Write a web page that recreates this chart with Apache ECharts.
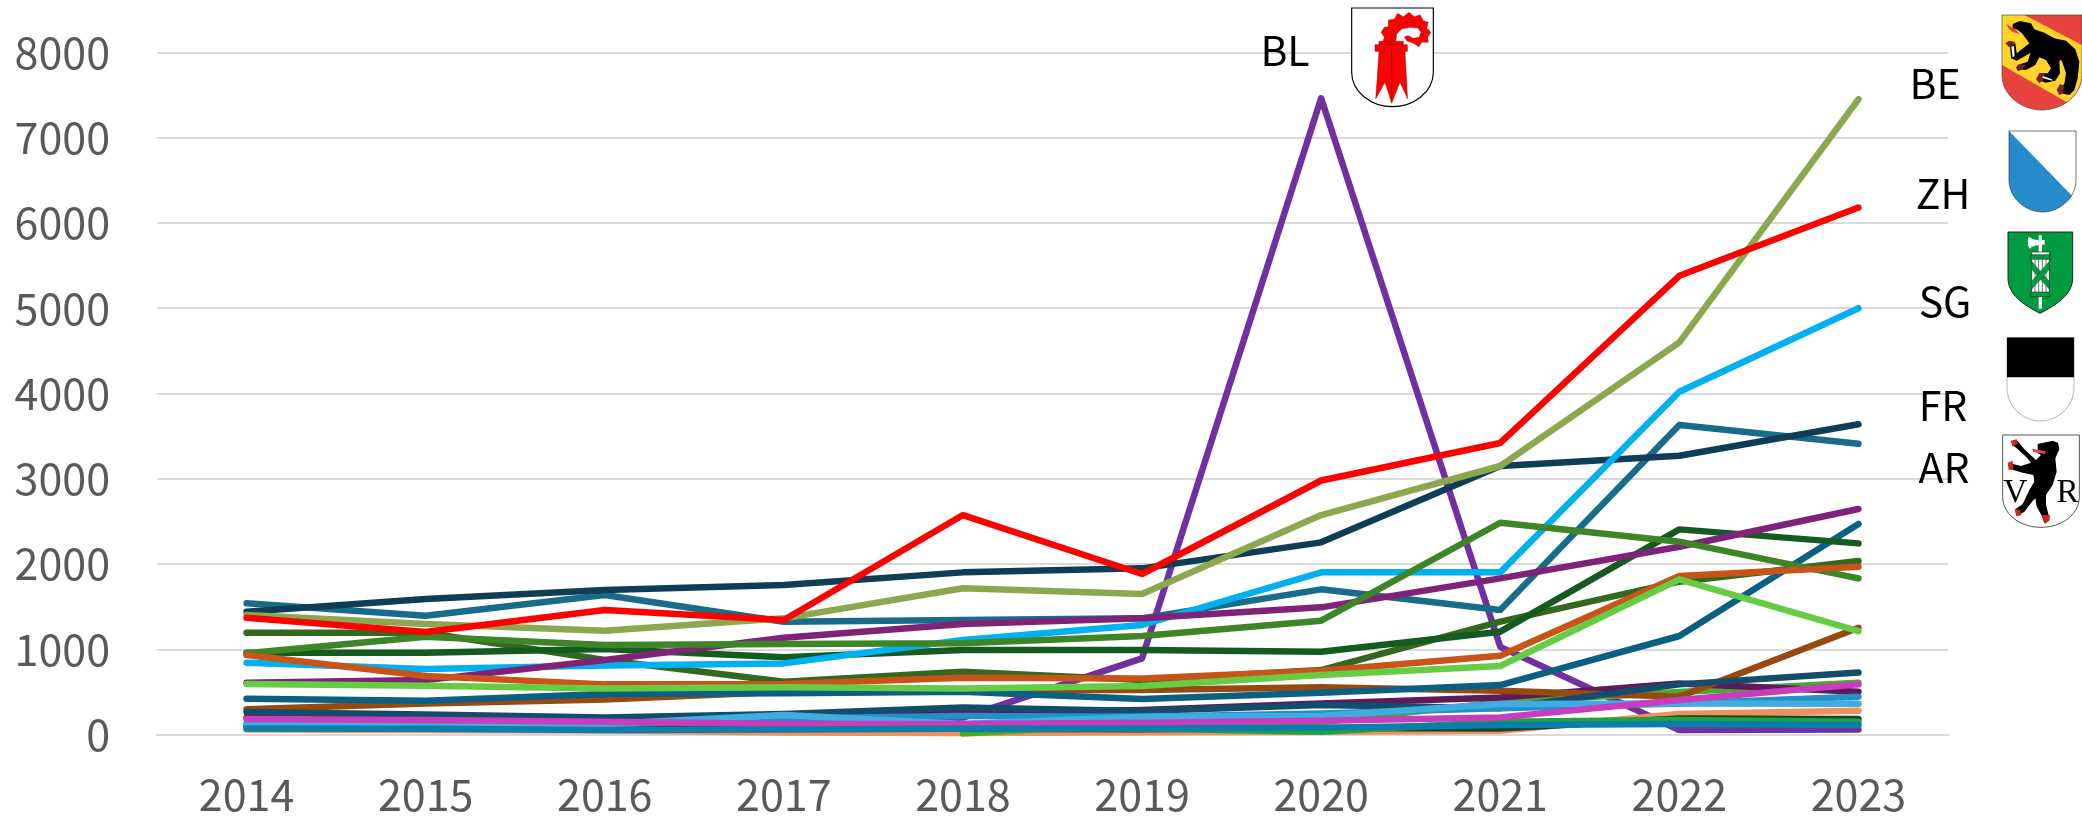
<!DOCTYPE html>
<html><head><meta charset="utf-8">
<style>html,body{margin:0;padding:0;background:#fff}#c{width:2082px;height:818px}</style>
<script src="https://cdn.jsdelivr.net/npm/echarts@6/dist/echarts.min.js"></script>
</head><body><div id="c"></div>
<script>
const years=['2014','2015','2016','2017','2018','2019','2020','2021','2022','2023'];
const bl=[90,85,80,90,200,895,7460,1030,55,60];
const salmon=[60,55,50,25,20,30,35,47,242,281];
const blackGreen=[100,95,90,85,70,65,80,74,190,184];
const grass=[null,null,null,null,15,130,150,380,500,610];
const midGreen=[null,null,null,null,60,74,35,152,172,152];
const plum=[200,190,170,195,250,290,367,437,600,504];
const brown=[297,367,414,504,524,524,555,516,445,1254];
const navy2=[266,238,203,242,320,277,348,309,590,730];
const teal2=[422,399,477,485,504,418,492,582,1157,2470];
const lime=[594,574,543,555,543,570,700,805,1821,1215];
const rust=[934,688,590,594,668,660,750,926,1860,1970];
const olive2=[1196,1196,875,621,739,640,758,1325,1794,2036];
const forest=[961,961,1004,907,993,993,973,1208,2407,2243];
const green=[954,1149,1051,1063,1071,1157,1337,2485,2263,1833];
const ar=[1540,1395,1637,1325,1344,1364,1704,1462,3630,3410];
const fr=[1442,1590,1696,1755,1903,1950,2255,3150,3270,3640];
const violet=[610,640,875,1137,1297,1364,1493,1833,2204,2646];
const sg=[844,770,810,836,1110,1286,1903,1903,4020,5000];
const be=[1403,1297,1220,1364,1716,1650,2575,3150,4600,7450];
const zh=[1372,1204,1462,1344,2575,1884,2980,3420,5380,6180];
const blue=[130,125,120,190,219,211,250,310,367,445];
const sky=[125,133,125,230,125,211,219,360,367,363];
const magenta=[184,172,152,125,125,140,164,203,406,590];
const ocean=[74,70,55,62,70,74,82,113,125,113];
const yTicks=[0,1000,2000,3000,4000,5000,6000,7000,8000];

const lines=[
 [bl,'#7030A0'],[salmon,'#F0905F'],[blackGreen,'#0F4A28'],[grass,'#4EA72E'],[midGreen,'#1FA33F'],
 [plum,'#5E1A5A'],[brown,'#974A10'],[navy2,'#134D6B'],[teal2,'#0A5F82'],[olive2,'#33691E'],
 [forest,'#155A1E'],[ar,'#196B8A'],[fr,'#0F3D56'],[be,'#8CA84F'],[sg,'#00B0F0'],[violet,'#7F2378'],
 [green,'#3E8527'],[rust,'#C9541A'],[lime,'#66CC44'],[zh,'#FF0000'],
 [blue,'#2490C8'],[sky,'#40ACDF'],[magenta,'#C83CBE'],[ocean,'#0B7FAA']
];

const shield='M0 0H100V72C100 100 75 120 50 120C25 120 0 100 0 72Z';
const stroke=(c,w)=>({stroke:c,lineWidth:w});
const pathEl=(d,fill,st)=>({type:'path',shape:{pathData:d},style:Object.assign({fill:fill,lineWidth:0},st||{})});
function emblem(x,y,sx,sy,kids){return {type:'group',x:x,y:y,scaleX:sx,scaleY:sy,children:kids};}

function emblems(){
 const beShield='M18 15H258V195C258 255 200 300 138 300C76 300 18 255 18 195Z';
 const arShield='M20 15H250V200C250 255 195 292 135 292C75 292 20 255 20 200Z';
 const sgShield='M24 12H218V150C218 200 170 230 120 256C70 230 24 200 24 150Z';
 const blShield='M20 12H265V205C265 265 205 308 142 308C80 308 20 265 20 205Z';
 return [
 emblem(1996,10,1/3,1/3,[
  pathEl(beShield,'#E8423F'),
  pathEl('M18 15L85 15L258 105V195C258 225 240 255 215 278L18 165Z','#FFD42A'),
  pathEl('M50 42L72 33L105 40L115 58L145 68L175 85L210 92L238 118L250 155L245 205L235 240L220 255L195 250L185 240L205 222L210 190L200 160L196 150L190 152L192 190L178 212L150 218L125 210L130 190L155 190L165 175L150 150L130 142L118 165L90 180L62 178L65 165L95 155L105 125L100 100L78 70L65 60L50 55Z','#000'),
  pathEl('M42 108L58 100L62 130L100 100L110 125L62 152L45 145Z','#000'),
  pathEl('M30 42L45 50L62 62L72 72L50 66L40 58Z','#E8423F'),
  pathEl('M28 100L40 92L58 96L50 106L40 112Z','#7A1F1F'),
  pathEl('M60 172L70 162L88 164L80 178L66 184Z','#7A1F1F'),
  pathEl('M120 208L130 190L146 192L142 210L130 220Z','#7A1F1F'),
  pathEl('M182 240L192 222L206 228L200 250L190 256Z','#7A1F1F'),
  pathEl('M46 110L54 108L56 138L50 142Z','#fff'),
  pathEl('M140 198L168 208L168 212L140 204Z','#fff'),
  pathEl(beShield,'none',stroke('#444',2))
 ]),
 emblem(2009,131,0.67,81/120,[
  pathEl(shield,'#fff'),
  pathEl('M0 0L94 96C82 112 66 120 50 120C25 120 0 100 0 72Z','#268BCC'),
  pathEl(shield,'none',stroke('#333',1))
 ]),
 emblem(2000,228,1/3,1/3,[
  pathEl(sgShield,'#009B3E',stroke('#222',3)),
  pathEl('M116 22H126V242H116Z','#fff'),
  pathEl('M86 26C96 32 104 36 116 36V52C104 52 96 56 88 62C82 50 82 38 86 26Z','#fff'),
  pathEl('M116 36H134V50H116Z','#fff'),
  pathEl('M95 72H148V205H95Z','#fff',stroke('#222',2)),
  pathEl('M105 92V195M116 92V195M127 92V195M138 92V195','none',stroke('#777',3)),
  pathEl('M92 80H150V94H92Z','#009B3E',stroke('#222',1.5)),
  pathEl('M92 192H150V206H92Z','#009B3E',stroke('#222',1.5)),
  pathEl('M95 100L148 160V184L95 124Z','#009B3E',stroke('#222',1)),
  pathEl('M148 100L95 160V184L148 124Z','#009B3E',stroke('#222',1))
 ]),
 emblem(2007,337.5,0.67,83.5/120,[
  pathEl(shield,'#fff',stroke('#777',0.8)),
  pathEl('M0 0H100V57H0Z','#000')
 ]),
 emblem(1996,430,1/3,1/3,[
  pathEl(arShield,'#fff',stroke('#333',2.5)),
  {type:'text',style:{x:58,y:190,text:'V',fill:'#000',font:'100px "Liberation Serif"',align:'center',verticalAlign:'middle'}},
  {type:'text',style:{x:215,y:190,text:'R',fill:'#000',font:'100px "Liberation Serif"',align:'center',verticalAlign:'middle'}},
  pathEl('M125 42L170 32L186 38L190 58L178 85L182 125L170 165L150 195L150 225L158 255L145 280L138 258L122 230L118 205L108 215L85 245L65 258L58 238L80 222L100 180L115 155L112 135L80 128L45 118L42 100L75 108L105 98L90 80L62 55L50 45L65 32L85 58L120 90L135 75L125 70Z','#000'),
  pathEl('M108 56L150 64L146 72L112 66Z','#E8423F'),
  pathEl('M44 32L62 28L66 40L50 50Z','#C8281E'),
  pathEl('M35 98L50 92L52 118L38 120Z','#C8281E'),
  pathEl('M56 236L72 240L76 256L60 258Z','#C8281E'),
  pathEl('M138 254L162 256L160 272L146 282Z','#C8281E')
 ]),
 emblem(1345,4,1/3,1/3,[
  pathEl(blShield,'#fff',stroke('#000',3.5)),
  pathEl('M112 118L118 100L108 85L118 70L130 68L130 48L148 45L158 28L175 38L192 25L208 38L225 32L235 50L250 55L245 72L258 85L248 100L250 115L230 115L222 128L205 118L185 110L178 98L190 95L205 103L222 100L228 85L218 72L195 70L170 75L155 90L152 118Z','#FF0000',stroke('#800000',1)),
  pathEl('M140 112C140 75 165 55 195 55C225 55 242 78 232 98','none',stroke('#800000',2)),
  pathEl('M102 112H175V124H102Z','#FF0000',stroke('#800000',1.5)),
  pathEl('M90 122H187V142H90Z','#FF0000',stroke('#800000',1.5)),
  pathEl('M102 142H180L188 285L165 235L140 298L120 235L92 285Z','#FF0000',stroke('#800000',1)),
  pathEl('M140 142V295','none',stroke('#800000',2))
 ])
];}
const labelFont='"Noto Sans CJK JP","Noto Sans",sans-serif';
function lab(t,cx,cy){return {type:'text',z:100,x:cx,y:cy,style:{text:t,fill:'#000',font:`41px ${labelFont}`,align:'center',verticalAlign:'middle'}};}
const labels=[lab('BL',1285,50),lab('BE',1935,83),lab('ZH',1943,193),lab('SG',1945,301),lab('FR',1943,405),lab('AR',1944,467)];

const chart=echarts.init(document.getElementById('c'),null,{renderer:'canvas'});
chart.setOption({
 animation:false,
 backgroundColor:'#fff',
 grid:{left:157,right:134,top:52.3,bottom:83.3,containLabel:false},
 xAxis:{type:'category',data:years,boundaryGap:true,
  axisLine:{show:true,lineStyle:{color:'#D9D9D9',width:2}},axisTick:{show:false},
  axisLabel:{color:'#595959',fontSize:43,margin:38,fontFamily:labelFont,interval:0},splitLine:{show:false}},
 yAxis:{type:'value',min:yTicks[0],max:yTicks[yTicks.length-1],interval:1000,
  axisLine:{show:false},axisTick:{show:false},
  axisLabel:{color:'#595959',fontSize:43,margin:47,fontFamily:labelFont,padding:[0,0,3,0],formatter:v=>String(v)},
  splitLine:{lineStyle:{color:'#D9D9D9',width:2}}},
 series:[...lines.map(([d,c])=>({type:'line',data:d,showSymbol:false,smooth:false,connectNulls:false,
   lineStyle:{color:c,width:6.5,cap:'round',join:'round'},itemStyle:{color:c},emphasis:{disabled:true}})),
  {type:'custom',coordinateSystem:'none',silent:true,data:[[0]],clip:false,
   renderItem:()=>({type:'group',children:emblems()})}],
 graphic:{elements:labels}
});
</script></body></html>
